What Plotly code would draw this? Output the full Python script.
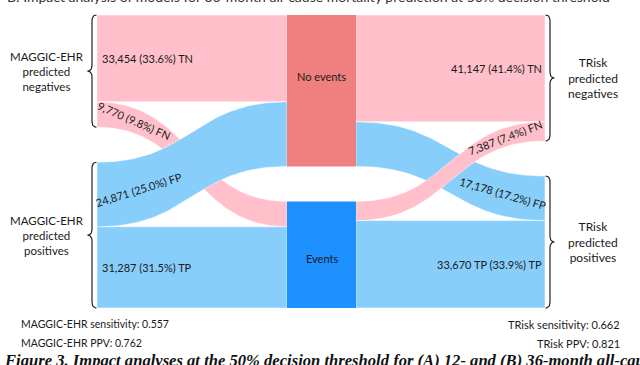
import numpy as np
import plotly.graph_objects as go

# ---------------- data ----------------
classes = ["TN", "FN", "FP", "TP"]
maggic_values = [33454, 9770, 24871, 31287]
maggic_labels = ["33,454 (33.6%) TN", "9,770 (9.8%) FN", "24,871 (25.0%) FP", "31,287 (31.5%) TP"]
trisk_values = [41147, 7387, 17178, 33670]
trisk_labels = ["41,147 (41.4%) TN", "7,387 (7.4%) FN", "17,178 (17.2%) FP", "33,670 TP (33.9%) TP"]
outcome_labels = ["No events", "Events"]
model_names = ["MAGGIC-EHR", "TRisk"]
sensitivity = [0.557, 0.662]
ppv = [0.762, 0.821]
group_labels = ["predicted<br>negatives", "predicted<br>positives"]
top_title = "B: Impact analysis of models for 36-month all-cause mortality prediction at 50% decision threshold"
caption = "Figure 3. Impact analyses at the 50% decision threshold for (A) 12- and (B) 36-month all-cause mortality"

# ---------------- layout geometry ----------------
W, H = 640, 365
X_LEFT, X_MID0, X_MID1, X_RIGHT = 97, 287, 356, 545
Y_TOP, Y_BOT, GAP = 15, 308, 35
PINK, BLUE = "#FFC0CB", "#87CEFA"
NODE_COLORS = ["#F08080", "#1E90FF"]
class_color = {"TN": PINK, "FN": PINK, "FP": BLUE, "TP": BLUE}
FONT = "Lato"
TXT = "#1a1a1a"

total = sum(maggic_values)
k = (Y_BOT - Y_TOP - GAP) / total


def stack(values, groups):
    out, y, prev = [], Y_TOP, groups[0]
    for v, g in zip(values, groups):
        if g != prev:
            y += GAP
            prev = g
        out.append((y, y + v * k))
        y += v * k
    return out


grp = [0, 0, 1, 1]
left = dict(zip(classes, stack(maggic_values, grp)))
right = dict(zip(classes, stack(trisk_values, grp)))
mv = dict(zip(classes, maggic_values))
tv = dict(zip(classes, trisk_values))
order = ["TN", "FP", "FN", "TP"]  # stacking inside the outcome nodes
mid_in = dict(zip(order, stack([mv[c] for c in order], grp)))
mid_out = dict(zip(order, stack([tv[c] for c in order], grp)))


def bez(x0, y0, x1, y1, t):
    xm = (x0 + x1) / 2
    x = (1 - t) ** 3 * x0 + 3 * (1 - t) ** 2 * t * xm + 3 * (1 - t) * t ** 2 * xm + t ** 3 * x1
    y = (1 - t) ** 3 * y0 + 3 * (1 - t) ** 2 * t * y0 + 3 * (1 - t) * t ** 2 * y1 + t ** 3 * y1
    return x, y


def band(x0, ya0, yb0, x1, ya1, yb1, n=80):
    t = np.linspace(0, 1, n)
    xt, yt = bez(x0, ya0, x1, ya1, t)
    xb, yb = bez(x0, yb0, x1, yb1, t)
    return np.concatenate([xt, xb[::-1], xt[:1]]), np.concatenate([yt, yb[::-1], yt[:1]])


def band_point(x0, ya0, yb0, x1, ya1, yb1, xq):
    t = np.linspace(0, 1, 4001)
    xt, yt = bez(x0, ya0, x1, ya1, t)
    _, yb = bez(x0, yb0, x1, yb1, t)
    yc = (yt + yb) / 2
    i = int(np.argmin(np.abs(xt - xq)))
    i0, i1 = max(i - 5, 0), min(i + 5, len(t) - 1)
    slope = (yc[i1] - yc[i0]) / (xt[i1] - xt[i0])
    return yc[i], np.degrees(np.arctan(slope))


fig = go.Figure()

flows_left = {c: (X_LEFT, left[c][0], left[c][1], X_MID0, mid_in[c][0], mid_in[c][1]) for c in classes}
flows_right = {c: (X_MID1, mid_out[c][0], mid_out[c][1], X_RIGHT, right[c][0], right[c][1]) for c in classes}

for c in ["TN", "FN", "TP", "FP"]:
    xs, ys = band(*flows_left[c])
    fig.add_trace(go.Scatter(x=xs, y=ys, fill="toself", fillcolor=class_color[c], mode="lines",
                             line=dict(color="white", width=0.5), hoverinfo="skip"))
for c in ["TN", "TP", "FP", "FN"]:
    xs, ys = band(*flows_right[c])
    fig.add_trace(go.Scatter(x=xs, y=ys, fill="toself", fillcolor=class_color[c], mode="lines",
                             line=dict(color="white", width=0.5), hoverinfo="skip"))

# outcome nodes
node_spans = [(mid_in["TN"][0], mid_in["FP"][1]), (mid_in["FN"][0], mid_in["TP"][1])]
for (y0, y1), col in zip(node_spans, NODE_COLORS):
    fig.add_trace(go.Scatter(x=[X_MID0, X_MID1, X_MID1, X_MID0, X_MID0], y=[y0, y0, y1, y1, y0],
                             fill="toself", fillcolor=col, mode="lines", line=dict(width=0),
                             hoverinfo="skip"))

ann = []
xc = (X_MID0 + X_MID1) / 2
node_label_shift = [-14, 4]
for (y0, y1), lab, s in zip(node_spans, outcome_labels, node_label_shift):
    ann.append(dict(x=xc, y=(y0 + y1) / 2 + s, text=lab, showarrow=False,
                    font=dict(family=FONT, size=11, color=TXT)))

# flat flow labels
for c, lab in zip(classes, maggic_labels):
    if c in ("TN", "TP"):
        ann.append(dict(x=X_LEFT + 3, y=sum(left[c]) / 2, text=lab, xanchor="left", showarrow=False,
                        font=dict(family=FONT, size=11, color=TXT)))
for c, lab in zip(classes, trisk_labels):
    if c in ("TN", "TP"):
        ann.append(dict(x=X_RIGHT - 1, y=sum(right[c]) / 2, text=lab, xanchor="right", showarrow=False,
                        font=dict(family=FONT, size=11, color=TXT)))

# curved flow labels
curved = [(flows_left["FN"], maggic_labels[1], 134, 4), (flows_left["FP"], maggic_labels[2], 139, -3),
          (flows_right["FN"], trisk_labels[1], 505, -3), (flows_right["FP"], trisk_labels[2], 503, 3)]
for f, lab, xq, extra in curved:
    yq, ang = band_point(*f, xq)
    ann.append(dict(x=xq, y=yq, text=lab, textangle=ang + extra, showarrow=False,
                    font=dict(family=FONT, size=11, color=TXT)))


# braces
def brace(xv, ya, yb, side):
    d = 4.5 * side
    r = 6
    ym = (ya + yb) / 2
    t = np.linspace(0, 1, 12)

    def q(p0, p1, p2):
        return ((1 - t) ** 2 * p0[0] + 2 * (1 - t) * t * p1[0] + t ** 2 * p2[0],
                (1 - t) ** 2 * p0[1] + 2 * (1 - t) * t * p1[1] + t ** 2 * p2[1])

    segs = [q((xv + d, ya), (xv, ya), (xv, ya + r)),
            ([xv, xv], [ya + r, ym - r]),
            q((xv, ym - r), (xv, ym), (xv - d, ym)),
            q((xv - d, ym), (xv, ym), (xv, ym + r)),
            ([xv, xv], [ym + r, yb - r]),
            q((xv, yb - r), (xv, yb), (xv + d, yb))]
    xs = np.concatenate([np.asarray(s[0]) for s in segs])
    ys = np.concatenate([np.asarray(s[1]) for s in segs])
    return xs, ys


for g, (a, b) in enumerate([("TN", "FN"), ("FP", "TP")]):
    ya, yb = left[a][0], left[b][1]
    xs, ys = brace(X_LEFT - 5, ya, yb, +1)
    fig.add_trace(go.Scatter(x=xs, y=ys, mode="lines", line=dict(color="#222", width=1.2), hoverinfo="skip"))
    ann.append(dict(x=47, y=(ya + yb) / 2, text=model_names[0] + "<br>" + group_labels[g], showarrow=False,
                    font=dict(family=FONT, size=11.5, color=TXT)))
    ya, yb = right[a][0], right[b][1]
    xs, ys = brace(X_RIGHT + 5, ya, yb, -1)
    fig.add_trace(go.Scatter(x=xs, y=ys, mode="lines", line=dict(color="#222", width=1.2), hoverinfo="skip"))
    ann.append(dict(x=593, y=(ya + yb) / 2, text=model_names[1] + "<br>" + group_labels[g], showarrow=False,
                    font=dict(family=FONT, size=12, color=TXT)))

# metrics
ann.append(dict(x=19, y=324, text=f"{model_names[0]} sensitivity: {sensitivity[0]:.3f}", xanchor="left",
                showarrow=False, font=dict(family=FONT, size=10.5, color=TXT)))
ann.append(dict(x=19, y=343, text=f"{model_names[0]} PPV: {ppv[0]:.3f}", xanchor="left",
                showarrow=False, font=dict(family=FONT, size=10.5, color=TXT)))
ann.append(dict(x=622, y=324, text=f"{model_names[1]} sensitivity: {sensitivity[1]:.3f}", xanchor="right",
                showarrow=False, font=dict(family=FONT, size=11, color=TXT)))
ann.append(dict(x=622, y=343, text=f"{model_names[1]} PPV: {ppv[1]:.3f}", xanchor="right",
                showarrow=False, font=dict(family=FONT, size=11, color=TXT)))

# partially visible title and caption (cropped at the picture edges as in the reference)
ann.append(dict(x=5, y=7, text=top_title, xanchor="left", yanchor="bottom", showarrow=False,
                font=dict(family=FONT, size=14, color="#333")))
ann.append(dict(x=2, y=349, text="<b><i>" + caption + "</i></b>", xanchor="left", yanchor="top",
                showarrow=False, font=dict(family="Liberation Serif", size=16.6, color="#111")))

fig.update_layout(
    width=W, height=H, margin=dict(l=0, r=0, t=0, b=0),
    paper_bgcolor="white", plot_bgcolor="white", showlegend=False,
    xaxis=dict(range=[0, W], visible=False, fixedrange=True),
    yaxis=dict(range=[H, 0], visible=False, fixedrange=True),
    annotations=ann,
)
fig.write_html("out.html", config={"displayModeBar": False},
               post_script="document.body.style.margin='0';document.body.style.overflow='hidden';")
